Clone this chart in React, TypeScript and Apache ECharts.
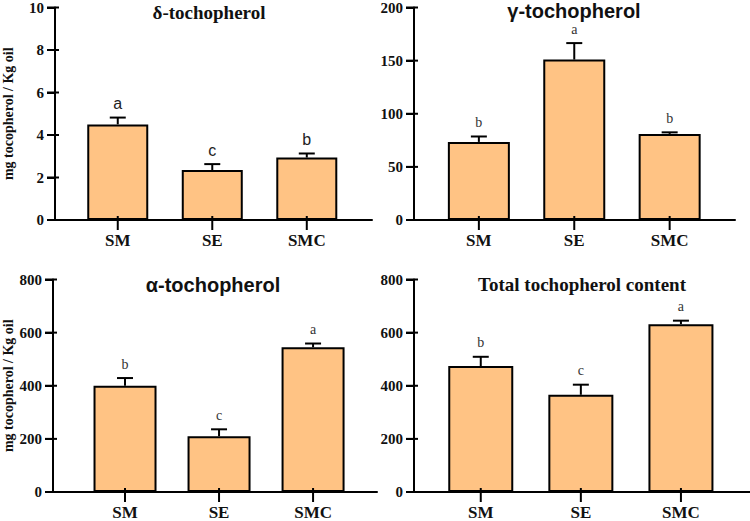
import React, { useEffect, useRef } from "react";
import * as echarts from "echarts";

const categories = ["SM", "SE", "SMC"];

const deltaMean = [4.5, 2.35, 2.94];
const deltaErr = [0.32, 0.28, 0.19];
const deltaLetters = ["a", "c", "b"];

const gammaMean = [73.5, 151, 81];
const gammaErr = [5.1, 15.5, 1.5];
const gammaLetters = ["b", "a", "b"];

const alphaMean = [400, 210, 545];
const alphaErr = [29, 26, 14];
const alphaLetters = ["b", "c", "a"];

const totalMean = [474, 366, 632];
const totalErr = [35, 38, 13];
const totalLetters = ["b", "c", "a"];

const titles = ["δ-tochopherol", "γ-tochopherol", "α-tochopherol", "Total tochopherol content"];
const yAxisName = "mg tocopherol / Kg oil";
const yMax = [10, 200, 800, 800];
const yInterval = [2, 50, 200, 200];

const SERIF = "'Liberation Serif', 'Times New Roman', serif";
const SANS = "'Liberation Sans', Arial, sans-serif";

const panels = [
  { mean: deltaMean, err: deltaErr, letters: deltaLetters },
  { mean: gammaMean, err: gammaErr, letters: gammaLetters },
  { mean: alphaMean, err: alphaErr, letters: alphaLetters },
  { mean: totalMean, err: totalErr, letters: totalLetters },
];

const layout = [
  { left: 50, top: 7, width: 322, height: 213, min: -0.664, max: 2.69, barWidth: 61, name: true, nameGap: 40, letterFamily: SANS, letterSize: 16, letterColor: "#222222" },
  { left: 414, top: 7, width: 321, height: 213, min: -0.68, max: 2.685, barWidth: 62, name: false, nameGap: 0, letterFamily: SERIF, letterSize: 14, letterColor: "#333333" },
  { left: 47, top: 279.5, width: 330, height: 214, min: -0.766, max: 2.68, barWidth: 63, name: true, nameGap: 38, letterFamily: SERIF, letterSize: 14, letterColor: "#333333" },
  { left: 414, top: 279.5, width: 336, height: 214, min: -0.667, max: 2.69, barWidth: 65, name: false, nameGap: 0, letterFamily: SERIF, letterSize: 14, letterColor: "#333333" },
];

const titleStyle = [
  { x: 209, y: 12, family: SERIF, size: 19 },
  { x: 574, y: 11, family: SANS, size: 20 },
  { x: 213, y: 285, family: SANS, size: 20 },
  { x: 582, y: 284, family: SERIF, size: 19 },
];

function yTicks(i: number) {
  const out: number[] = [];
  for (let v = 0; v <= yMax[i] + 1e-9; v += yInterval[i]) out.push(v);
  return out;
}

export default function App() {
  const ref = useRef<HTMLDivElement>(null);
  useEffect(() => {
    document.body.style.margin = "0";
    if (!ref.current) return;
    const chart = echarts.init(ref.current, undefined, { renderer: "svg" });

    const grid = layout.map((l) => ({ left: l.left, top: l.top, width: l.width, height: l.height, containLabel: false }));
    const xAxis = layout.map((l, i) => ({
      type: "value",
      gridIndex: i,
      min: l.min,
      max: l.max,
      splitLine: { show: false },
      axisLine: { show: true, onZero: false, lineStyle: { color: "#000", width: 2 } },
      axisTick: { show: false },
      axisLabel: {
        customValues: [0, 1, 2],
        formatter: (v: number) => categories[Math.round(v)] ?? "",
        margin: 12,
        color: "#111",
        fontFamily: SERIF,
        fontWeight: "bold",
        fontSize: 17,
      },
    }));
    const yAxis = layout.map((l, i) => ({
      type: "value",
      gridIndex: i,
      min: 0,
      max: yMax[i],
      interval: yInterval[i],
      splitLine: { show: false },
      axisLine: { show: true, onZero: false, lineStyle: { color: "#000", width: 2 } },
      axisTick: { show: true, inside: false, length: 8, lineStyle: { color: "#000", width: 2 } },
      axisLabel: { margin: 11, color: "#111", fontFamily: SERIF, fontWeight: "bold", fontSize: 15 },
      name: l.name ? yAxisName : "",
      nameLocation: "middle",
      nameRotate: 90,
      nameGap: l.nameGap,
      nameTextStyle: { color: "#111", fontFamily: SERIF, fontWeight: "bold", fontSize: 14 },
    }));

    const series: any[] = [];
    panels.forEach((p, i) => {
      const l = layout[i];
      series.push({
        type: "bar",
        xAxisIndex: i,
        yAxisIndex: i,
        barWidth: l.barWidth,
        data: p.mean.map((v, k) => [k, v]),
        itemStyle: { color: "#FFC384", borderColor: "#000", borderWidth: 2 },
        z: 2,
      });
      series.push({
        type: "custom",
        xAxisIndex: i,
        yAxisIndex: i,
        z: 3,
        silent: true,
        clip: false,
        data: p.mean.map((v, k) => [k, v, p.err[k]]),
        renderItem: (params: any, api: any) => {
          const x = api.value(0);
          const m = api.value(1);
          const e = api.value(2);
          const base = api.coord([x, m]);
          const top = api.coord([x, m + e]);
          const zero = api.coord([x, 0]);
          return {
            type: "group",
            children: [
              { type: "line", shape: { x1: base[0], y1: base[1], x2: top[0], y2: top[1] }, style: { stroke: "#000", lineWidth: 2 } },
              { type: "line", shape: { x1: top[0] - 8, y1: top[1], x2: top[0] + 8, y2: top[1] }, style: { stroke: "#000", lineWidth: 2 } },
              { type: "rect", shape: { x: zero[0] - 1, y: zero[1] - 4, width: 2, height: 14 }, style: { fill: "#000" } },
              {
                type: "text",
                x: top[0],
                y: top[1] - 14,
                style: {
                  text: p.letters[params.dataIndex],
                  fontFamily: l.letterFamily,
                  fontSize: l.letterSize,
                  fill: l.letterColor,
                  align: "center",
                  verticalAlign: "middle",
                },
              },
            ],
          };
        },
      });
    });

    const titleGraphics: any[] = titles.map((t, i) => ({
      type: "text",
      x: titleStyle[i].x,
      y: titleStyle[i].y,
      style: {
        text: t,
        fontFamily: titleStyle[i].family,
        fontSize: titleStyle[i].size,
        fontWeight: "bold",
        fill: "#111",
        align: "center",
        verticalAlign: "middle",
      },
    }));

    chart.setOption({
      animation: false,
      backgroundColor: "#fff",
      grid,
      xAxis,
      yAxis,
      series,
      graphic: titleGraphics,
    });

    const tickGraphics: any[] = [];
    layout.forEach((l, i) => {
      yTicks(i).forEach((v) => {
        const pt = chart.convertToPixel({ xAxisIndex: i, yAxisIndex: i } as any, [l.min, v]) as number[];
        tickGraphics.push({
          type: "rect",
          shape: { x: pt[0] - 8, y: pt[1] - 1, width: 12, height: 2 },
          style: { fill: "#000" },
        });
      });
    });
    chart.setOption({ graphic: [...titleGraphics, ...tickGraphics] });

    return () => chart.dispose();
  }, []);
  return <div ref={ref} style={{ width: 750, height: 521 }} />;
}
